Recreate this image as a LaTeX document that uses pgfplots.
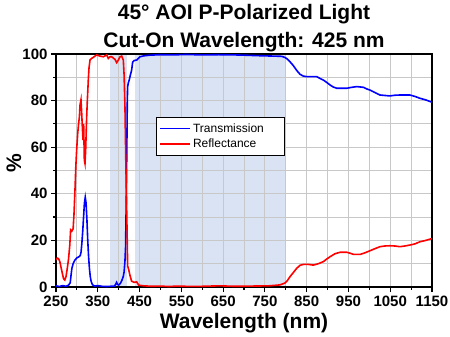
\documentclass[border=0pt]{standalone}
\usepackage{pgfplots}
\pgfplotsset{compat=1.18}
\usepackage{fontspec}
\setmainfont{Liberation Sans}
\definecolor{bandfill}{HTML}{DAE3F3}
\definecolor{gridgray}{HTML}{C8C8C8}
\definecolor{tblue}{HTML}{0000FF}
\definecolor{rred}{HTML}{FF0000}
\begin{document}
\begin{tikzpicture}
\begin{axis}[
  name=ax,
  set layers,
  scale only axis,
  width=376pt, height=233pt,
  xmin=250, xmax=1150, ymin=0, ymax=100,
  xtick={250,350,...,1150}, minor xtick={300,400,...,1100},
  ytick={0,20,...,100}, minor ytick={10,30,...,90},
  grid=both,
  major grid style={gridgray, line width=0.8pt},
  minor grid style={gridgray, line width=0.8pt},
  tick align=outside, tick pos=left,
  major tick length=5pt, minor tick length=3pt,
  every tick/.style={black, line width=1.2pt},
  axis line style={black, line width=1.6pt},
  /pgf/number format/assume math mode=true,
  /pgf/number format/1000 sep={},
  ticklabel style={font=\bfseries\fontsize{15}{15}\selectfont},
  xlabel={Wavelength (nm)},
  xlabel style={font=\bfseries\fontsize{21}{21}\selectfont, at={(axis description cs:0.5,0)}, anchor=base, yshift=-41.3pt},
  ylabel={\%},
  ylabel style={font=\bfseries\fontsize{21}{21}\selectfont, at={(axis description cs:0,0.53)}, anchor=center, yshift=42pt},
  legend style={at={(axis description cs:0.266,0.73)}, anchor=north west, draw=black, line width=0.8pt,
    font=\fontsize{12}{14}\selectfont, inner xsep=3pt, inner ysep=4pt, row sep=1.5pt},
  legend cell align=left,
  legend image code/.code={\draw[#1, line width=1.6pt] (0pt,0pt) -- (30pt,0pt);},
]
% shaded design bands
\addplot[fill=bandfill, draw=none, on layer=axis background, forget plot]
  coordinates {(380,0) (380,100) (420,100) (420,0)};
\addplot[fill=bandfill, draw=none, on layer=axis background, forget plot]
  coordinates {(440,0) (440,100) (800,100) (800,0)};

% transmission
\addplot[draw=tblue, line width=1.6pt] coordinates {
(250,0.5)(258,0.2)(266,0.6)(274,0.3)(280,0.8)(284,1.8)(286,5)(288,8)(291,10)(295,11.5)
(300,12.5)(305,13)(308,13.5)(310,15)(312,19)(314,24)(316,30)(318,36)(320,38.5)(322,36)
(324,29)(326,20)(328,13)(330,8)(332,4.5)(334,2.5)(337,1)(342,0.4)(350,0.6)(360,0.3)
(370,0.2)(380,0.3)(390,0.4)(393,1.2)(395,2)(397,1.2)(400,0.8)(404,1.5)(408,3)(411,4.5)
(413,6.5)(415,11)(416.5,17)(418,35)(419.5,58)(420.7,80)(421.5,86)(423,87.5)(425.5,89)(428,91)
(431,93)(433.5,96.5)(437,97.2)(443,97.4)(451,98.8)(460,99.2)(475,99.5)(500,99.7)(530,99.6)(560,99.8)
(600,99.6)(640,99.7)(680,99.6)(700,99.5)(730,99.3)(750,99.2)(790,99)(798,98.5)(804,97.8)(810,96.7)
(818,95)(826,93)(834,91.3)(842,90.5)(850,90.3)(874,90.3)(882,89.5)(890,88.8)(898,87.8)(906,86.7)
(914,85.8)(922,85.3)(946,85.3)(958,85.7)(970,86)(986,85.7)(994,85)(1002,84.5)(1014,83.4)(1025.5,82.4)
(1049,82)(1061,82.3)(1073,82.4)(1097,82.4)(1109,81.8)(1121,81)(1135,80.3)(1150,79.3)
};
\addlegendentry{\makebox[86pt][l]{Transmission}}

% reflectance
\addplot[draw=rred, line width=1.6pt] coordinates {
(250,11.6)(253,12.4)(256,12.2)(259,11)(262,8.5)(265,6)(268,3.6)(271,3)(274,4.5)(277,8)
(280,12)(283,18)(285,24.5)(288,24)(291,25)(293,31)(295.5,42)(297.5,52)(299.5,59)(302,66)
(304,70)(306,73)(307.4,78)(309.8,80.3)(311.4,75)(313,68.8)(314.6,63)(316.2,70)(317.8,54.5)(319.4,53)
(321,58.8)(323.4,73)(325,80)(327.3,88.8)(329,94)(331.4,97.4)(335.4,98.1)(341,98.8)(347.3,99.6)(355.3,99.1)
(363.3,98.8)(371.3,99.6)(375.2,98.1)(379,98.8)(383.3,98.8)(391.2,97.7)(395.2,96.3)(399.2,97.4)(403.2,98.8)(407.2,99.1)
(411.1,97.4)(413,91)(415.1,77)(417,55)(419,35)(420.5,20)(421.5,9)(424,7.5)(427,5)(431,2.5)
(437,2)(443,2.2)(448,0.8)(460,0.5)(480,0.3)(500,0.4)(520,0.2)(540,0.4)(560,0.3)(600,0.3)
(640,0.5)(680,0.3)(720,0.4)(760,0.5)(786,0.9)(798,1.7)(804,2.8)(810,4.4)(818,6.2)(826,8)
(834,9.3)(842,9.7)(854,9.7)(866,9.4)(878,10)(890,10.9)(898,12)(906,13)(918,14.3)(930,14.9)
(946,14.9)(954,14.5)(962,14)(978,14)(990,14.7)(1002,15.6)(1014,16.5)(1025.5,17.3)(1037,17.6)(1049,17.7)
(1061,17.6)(1073,17.3)(1085,17.6)(1097,18)(1109,18.5)(1121,19.4)(1135,20)(1150,20.8)
};
\addlegendentry{Reflectance}
\end{axis}
\node[anchor=base, font=\bfseries\fontsize{21}{21}\selectfont] at ([yshift=6.3pt]ax.north) {Cut-On Wavelength: 425 nm};
\node[anchor=base, font=\bfseries\fontsize{21}{21}\selectfont] at ([yshift=34pt]ax.north) {45° AOI P-Polarized Light};
\pgfresetboundingbox
\path ([xshift=-56pt,yshift=-49pt]ax.south west) rectangle ([xshift=18pt,yshift=54pt]ax.north east);
\end{tikzpicture}
\end{document}
